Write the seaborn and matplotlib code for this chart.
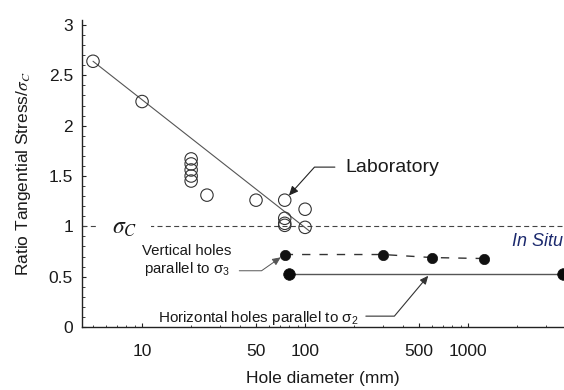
import matplotlib
matplotlib.use("Agg")
import matplotlib.pyplot as plt
from matplotlib.ticker import FixedLocator, FixedFormatter, MultipleLocator, LogLocator, NullFormatter
import seaborn as sns

# Laboratory tests (open circles): hole diameter (mm) and tangential stress / sigma_c
lab_diameter = [5, 10, 20, 20, 20, 20, 20, 25, 50, 75, 75, 75, 75, 100, 100]
lab_ratio = [2.64, 2.24, 1.67, 1.62, 1.56, 1.50, 1.45, 1.31, 1.26, 1.26, 1.08, 1.03, 1.01, 1.17, 0.99]

# Trend line through the laboratory results
trend_diameter = [5, 107]
trend_ratio = [2.64, 0.95]

# In situ: vertical holes parallel to sigma_3
vert_diameter = [75, 300, 600, 1250]
vert_ratio = [0.72, 0.72, 0.69, 0.68]

# In situ: horizontal holes parallel to sigma_2
horiz_diameter = [80, 3800]
horiz_ratio = [0.53, 0.53]

# Uniaxial compressive strength reference level
sigma_c_level = 1.0

x_ticks = [10, 50, 100, 500, 1000]
x_tick_labels = ["10", "50", "100", "500", "1000"]
y_ticks = [0, 0.5, 1, 1.5, 2, 2.5, 3]
y_tick_labels = ["0", "0.5", "1", "1.5", "2", "2.5", "3"]

sns.set_theme(style="ticks")
plt.rcParams["font.family"] = ["Liberation Sans", "DejaVu Sans"]
plt.rcParams["mathtext.fontset"] = "stix"

fig = plt.figure(figsize=(5.64, 3.90), dpi=100)
fig.patch.set_facecolor("white")
ax = fig.add_axes([82 / 564, 63 / 390, 482 / 564, 307 / 390])
ax.set_facecolor("white")
ax.set_xscale("log")
ax.set_xlim(4.28, 3875)
ax.set_ylim(0, 3.05)

ink = "#1a1a1a"

# sigma_c reference line
ax.axhline(sigma_c_level, color="#444444", lw=0.8, ls=(0, (4.5, 3)), zorder=1)
ax.text(7.86, sigma_c_level - 0.02, r"$\sigma_C$", fontsize=17, color=ink,
        ha="center", va="center", zorder=2,
        bbox=dict(boxstyle="square,pad=0.55", fc="white", ec="none"))

# laboratory trend line and points
sns.lineplot(x=trend_diameter, y=trend_ratio, ax=ax, color="#555555", lw=0.8, zorder=2)
sns.scatterplot(x=lab_diameter, y=lab_ratio, ax=ax, marker="o", s=80,
                facecolors="none", edgecolors="#333333", linewidth=0.8, zorder=3)
lab_pts = ax.collections[-1]
lab_pts.set_facecolor("none")
lab_pts.set_edgecolor("#333333")

# in situ, vertical holes (dashed)
sns.lineplot(x=vert_diameter, y=vert_ratio, ax=ax, color="#333333", lw=1.0, zorder=2)
ax.lines[-1].set_dashes((6, 6.5))
sns.scatterplot(x=vert_diameter, y=vert_ratio, ax=ax, s=55, color="#111111",
                edgecolor="#111111", linewidth=0.5, zorder=3)

# in situ, horizontal holes (solid)
sns.lineplot(x=horiz_diameter, y=horiz_ratio, ax=ax, color="#555555", lw=1.0, zorder=2)
sns.scatterplot(x=horiz_diameter, y=horiz_ratio, ax=ax, s=70, color="#0a0a0a",
                edgecolor="#0a0a0a", linewidth=0.5, zorder=3, clip_on=False)

arrow_head = "-|>,head_length=0.55,head_width=0.25"

ax.annotate("Laboratory", xy=(lab_diameter[9], lab_ratio[9]), xytext=(176, 1.58),
            fontsize=14, color=ink, ha="left", va="center",
            arrowprops=dict(arrowstyle=arrow_head, color="#222222", lw=0.8,
                            connectionstyle="angle,angleA=0,angleB=48,rad=0",
                            relpos=(0, 0.55), shrinkA=5, shrinkB=4.5,
                            mutation_scale=10))

ax.annotate("Vertical holes\nparallel to σ$\\mathregular{_3}$", xy=(vert_diameter[0], vert_ratio[0]),
            xytext=(18.9, 0.655), fontsize=10.8, color=ink, ha="center", va="center",
            multialignment="center", linespacing=1.2,
            arrowprops=dict(arrowstyle=arrow_head, color="#555555", lw=0.7,
                            connectionstyle="angle,angleA=0,angleB=35,rad=0",
                            relpos=(1, 0.22), shrinkA=3, shrinkB=3.5,
                            mutation_scale=9))

ax.annotate("Horizontal holes parallel to σ$\\mathregular{_2}$", xy=(584, horiz_ratio[0]),
            xytext=(51.4, 0.09), fontsize=11, color=ink, ha="center", va="center",
            arrowprops=dict(arrowstyle=arrow_head, color="#333333", lw=0.8,
                            connectionstyle="angle,angleA=0,angleB=50,rad=0",
                            relpos=(1, 0.6), shrinkA=3, shrinkB=2,
                            mutation_scale=9))

ax.text(3830, 0.85, "In Situ", fontsize=13, style="italic", color="#1c2a6e",
        ha="right", va="center")

# axes, ticks and labels
ax.xaxis.set_major_locator(FixedLocator(x_ticks))
ax.xaxis.set_major_formatter(FixedFormatter(x_tick_labels))
ax.xaxis.set_minor_locator(LogLocator(base=10, subs=range(2, 10)))
ax.xaxis.set_minor_formatter(NullFormatter())
ax.yaxis.set_major_locator(FixedLocator(y_ticks))
ax.yaxis.set_major_formatter(FixedFormatter(y_tick_labels))
ax.yaxis.set_minor_locator(MultipleLocator(0.1))

ax.tick_params(which="both", direction="in", colors="#222222", labelcolor=ink)
ax.tick_params(which="major", length=3, width=0.8, labelsize=12.5)
ax.tick_params(which="minor", length=1.8, width=0.6)
ax.tick_params(axis="x", which="major", pad=12)
ax.tick_params(axis="y", which="major", pad=6.5)

sns.despine(ax=ax)
for side in ("left", "bottom"):
    ax.spines[side].set_color("#222222")
    ax.spines[side].set_linewidth(1.0)

ax.set_xlabel("Hole diameter (mm)", fontsize=12.5, color=ink, labelpad=9)
ax.set_ylabel(r"Ratio Tangential Stress/$\sigma_C$", fontsize=12.5, color=ink, labelpad=11)

fig.savefig("out.png", dpi=100, facecolor="white")
